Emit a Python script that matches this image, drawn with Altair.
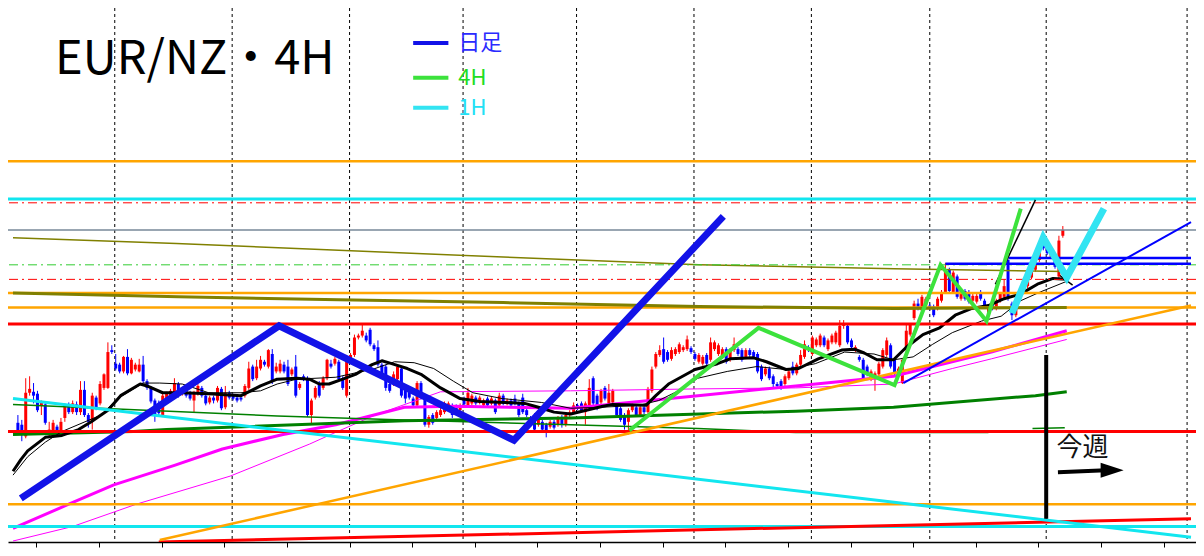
import altair as alt
import pandas as pd

# ---------------- data (prices; candle values in points above 1.7000) ----------------
BASE = 1.7000
PIP = 0.0001

OPEN_PTS = [
    172, 170, 158, 203, 204, 202, 190, 191, 162, 163,
    168, 162, 177, 190, 183, 191, 183, 206, 180, 173,
    198, 192, 208, 208, 247, 233, 232, 225, 240, 223,
    227, 225, 232, 215, 208, 195, 190, 180, 195, 200,
    203, 212, 202, 205, 203, 195, 202, 208, 200, 193,
    198, 195, 207, 188, 203, 200, 198, 198, 200, 208,
    230, 218, 228, 235, 230, 243, 225, 225, 232, 230,
    222, 230, 208, 220, 218, 180, 198, 213, 208, 218,
    233, 233, 235, 218, 200, 237, 242, 260, 262, 262,
    268, 252, 250, 232, 230, 212, 215, 217, 228, 210,
    205, 197, 190, 213, 198, 170, 180, 177, 180, 183,
    188, 190, 189, 185, 197, 190, 192, 198, 193, 190,
    197, 192, 195, 190, 200, 192, 195, 197, 192, 198,
    185, 177,
    180, 170, 173, 170, 168, 173, 170, 178, 170,
    180, 183, 190, 192, 183, 190, 218, 200, 193, 208,
    192, 193, 190, 187, 180, 173, 185, 188, 180, 188,
    183, 205, 230, 242, 248, 245, 238, 243, 245, 247,
    248, 249, 243, 235, 233, 242, 237, 248, 243, 240,
    248, 237, 247, 248, 247, 240, 247, 245, 243, 230,
    222, 228, 220, 212, 215, 212, 218, 230, 223, 232,
    240, 250, 243, 252, 252, 260, 248, 255, 255, 252,
    272, 272, 257, 247, 240, 237, 230, 217, 218, 222,
    230, 242, 252, 237, 223, 213, 247, 263, 280, 295,
    288, 293, 293, 292, 290, 298, 307, 330, 307, 323,
    300, 308, 307, 298, 297, 307, 298, 285, 297, 290,
    298, 302, 340, 295, 283, 300, 307, 313, 322, 330,
    340, 365, 352, 343, 343, 323, 365,
]
CLOSE_PTS = [
    162, 160, 203, 207, 200, 185, 193, 172, 165, 172,
    162, 173, 190, 183, 192, 183, 206, 180, 173, 200,
    187, 212, 222, 245, 245, 228, 225, 240, 223, 237,
    232, 232, 215, 208, 194, 180, 182, 200, 202, 205,
    213, 200, 204, 200, 197, 203, 210, 200, 192, 198,
    195, 208, 187, 203, 198, 197, 195, 196, 210, 228,
    217, 230, 237, 232, 247, 215, 230, 233, 225, 212,
    227, 200, 212, 217, 180, 195, 208, 200, 218, 237,
    230, 238, 217, 208, 240, 242, 260, 262, 267, 257,
    253, 248, 232, 223, 208, 205, 222, 230, 200, 197,
    198, 190, 213, 198, 170, 178, 172, 183, 185, 192,
    192, 180, 186, 190, 191, 203, 200, 192, 198, 195,
    190, 197, 183, 200, 192, 195, 190, 192, 180, 183,
    180, 172,
    165, 177, 165, 162, 173, 167, 177, 170, 180,
    183, 190, 187, 185, 192, 208, 192, 187, 205, 197,
    203, 205, 180, 175, 170, 185, 190, 180, 188, 183,
    207, 227, 243, 247, 235, 237, 247, 248, 253, 250,
    258, 245, 238, 242, 240, 233, 255, 255, 252, 248,
    235, 247, 253, 243, 237, 247, 242, 240, 225, 217,
    228, 218, 212, 210, 208, 220, 225, 223, 232, 242,
    253, 247, 260, 258, 262, 252, 257, 262, 265, 272,
    273, 255, 250, 250, 237, 218, 222, 225, 223, 233,
    247, 257, 230, 223, 228, 237, 267, 273, 295, 290,
    302, 300, 290, 283, 300, 307, 330, 308, 327, 302,
    308, 300, 297, 303, 303, 300, 292, 292, 290, 298,
    305, 313, 300, 283, 297, 307, 320, 323, 330, 343,
    355, 352, 347, 350, 333, 360, 371,
]
HIGH_PTS = [
    180, 175, 218, 220, 213, 205, 195, 193, 173, 175,
    170, 177, 192, 193, 195, 194, 215, 215, 182, 203,
    200, 215, 223, 255, 252, 243, 234, 241, 248, 239,
    234, 238, 241, 217, 210, 197, 195, 202, 204, 207,
    218, 214, 206, 207, 205, 205, 212, 210, 202, 200,
    200, 210, 209, 210, 205, 202, 200, 200, 212, 235,
    232, 237, 241, 237, 248, 248, 234, 237, 235, 237,
    229, 242, 214, 222, 220, 197, 210, 215, 220, 238,
    237, 240, 237, 220, 242, 244, 263, 264, 274, 265,
    270, 254, 257, 234, 232, 214, 225, 232, 230, 212,
    207, 199, 215, 215, 200, 180, 182, 185, 190, 194,
    194, 192, 191, 192, 199, 208, 202, 200, 200, 197,
    199, 199, 197, 203, 202, 197, 197, 201, 194, 202,
    187, 179,
    182, 179, 175, 172, 175, 175, 179, 180, 182,
    185, 193, 192, 194, 194, 217, 220, 202, 207, 210,
    212, 207, 192, 189, 182, 187, 192, 190, 190, 190,
    209, 230, 245, 252, 260, 247, 250, 250, 255, 252,
    262, 251, 245, 244, 242, 244, 260, 257, 254, 250,
    250, 249, 260, 250, 249, 249, 249, 247, 245, 232,
    230, 230, 222, 214, 217, 222, 227, 235, 234, 247,
    257, 252, 262, 260, 264, 262, 259, 264, 267, 278,
    278, 274, 259, 252, 242, 239, 232, 227, 225, 235,
    249, 260, 254, 239, 230, 239, 273, 275, 298, 300,
    304, 302, 295, 294, 302, 309, 337, 332, 329, 325,
    310, 310, 309, 305, 305, 309, 300, 294, 299, 300,
    307, 320, 343, 297, 299, 309, 322, 325, 332, 345,
    357, 367, 354, 352, 345, 365, 375,
]
LOW_PTS = [
    160, 153, 156, 200, 192, 183, 180, 170, 157, 160,
    160, 160, 173, 181, 181, 180, 180, 178, 167, 165,
    185, 190, 206, 207, 243, 226, 223, 223, 221, 222,
    225, 224, 213, 206, 192, 173, 178, 178, 193, 198,
    201, 198, 200, 198, 195, 183, 200, 198, 190, 191,
    192, 193, 185, 186, 196, 195, 193, 194, 198, 206,
    215, 216, 226, 230, 228, 212, 223, 223, 223, 210,
    220, 198, 206, 215, 178, 170, 196, 198, 206, 216,
    228, 231, 215, 206, 198, 235, 240, 258, 260, 255,
    251, 246, 230, 221, 205, 203, 210, 215, 198, 192,
    196, 188, 188, 196, 168, 167, 170, 175, 178, 181,
    186, 177, 184, 183, 189, 188, 190, 190, 191, 188,
    188, 190, 181, 188, 190, 190, 188, 190, 178, 181,
    178, 170,
    163, 168, 162, 157, 166, 165, 168, 167, 168,
    178, 181, 185, 183, 170, 188, 190, 185, 191, 195,
    190, 191, 178, 173, 165, 160, 183, 178, 178, 181,
    181, 203, 228, 240, 233, 235, 236, 241, 243, 245,
    246, 243, 236, 233, 231, 231, 235, 246, 241, 238,
    233, 235, 245, 241, 235, 238, 240, 238, 223, 215,
    220, 216, 207, 208, 206, 210, 216, 221, 221, 230,
    238, 245, 241, 250, 250, 250, 246, 253, 253, 250,
    269, 253, 248, 245, 235, 216, 220, 215, 205, 220,
    228, 240, 228, 221, 221, 212, 245, 261, 278, 288,
    286, 291, 288, 281, 288, 296, 305, 306, 305, 300,
    298, 298, 295, 296, 295, 298, 290, 283, 288, 288,
    296, 300, 298, 278, 281, 298, 305, 311, 320, 328,
    338, 350, 345, 341, 331, 321, 363,
]

# x positions are 4H bar indices
GRID_BARS = [24.75, 54.75, 84.75, 113.75, 142.75, 172.75, 202.75, 233.0, 262.75, 298.75]
TICK_BARS = [4.75, 20.75, 36.75, 52.75, 68.75, 84.75, 100.75, 116.75, 132.75, 148.75,
             164.75, 180.75, 196.75, 212.75, 228.75, 244.75, 260.75, 276.75, 292.75]

# horizontal levels
ORANGE_LEVELS = [1.7442, 1.7306, 1.7291, 1.7088]
CYAN_LEVELS = [1.7403, 1.7065]
RED_LEVELS = [1.7274, 1.7163]
RED_DASHDOT_LEVELS = [1.7399, 1.7320]
GREEN_DASHDOT_LEVELS = [1.7335]
GRAY_LEVELS = [1.7371]
BLUE_H_START = [237.0, 253.25]
BLUE_H_LEVELS = [1.7336, 1.7342]

# moving averages
OLIVE_THIN_BARS = [-1.25, 40.5, 82, 124, 174, 224, 267.5]
OLIVE_THIN_PRICE = [1.7363, 1.7357, 1.7350, 1.7343, 1.7335, 1.7331, 1.7328]
OLIVE_THICK_BARS = [-1.25, 41, 82, 124, 174, 224, 268]
OLIVE_THICK_PRICE = [1.7306, 1.7302, 1.7299, 1.7296, 1.7292, 1.7290, 1.7291]

MAG_THICK_BARS = [-1.25, 13, 24.5, 40, 52.25, 67.75, 81.25, 98.75, 111.25, 141.25,
                  173.75, 198.75, 223.75, 248.75, 268]
MAG_THICK_PRICE = [1.7063, 1.7088, 1.7108, 1.7128, 1.7145, 1.7160, 1.7170, 1.7188, 1.7189,
                   1.7187, 1.7200, 1.7210, 1.7220, 1.7245, 1.7267]
MAG_THIN_BARS = [-1.25, 14, 30.25, 54.25, 74.5, 80, 91.25, 108, 141.25, 173.75, 198.75,
                 223.75, 238.75, 248.75, 268]
MAG_THIN_PRICE = [1.7050, 1.7065, 1.7088, 1.7117, 1.7150, 1.7160, 1.7180, 1.7204, 1.7205,
                  1.7207, 1.7208, 1.7212, 1.7228, 1.7238, 1.7258]

DKGREEN_THICK_BARS = [-1.25, 29.5, 38, 98.75, 141.25, 198.75, 223.75, 260, 268]
DKGREEN_THICK_PRICE = [1.7160, 1.7163, 1.7165, 1.7174, 1.7177, 1.7184, 1.7188, 1.7200, 1.7204]
DKGREEN_THIN_BARS = [-1.25, 66.25, 98.75, 141.25, 173.75, 198.75, 248]
DKGREEN_THIN_PRICE = [1.7191, 1.7179, 1.7175, 1.7170, 1.7166, 1.7162, 1.7162]
DKGREEN_PIECE_BARS = [259.25, 267.5]
DKGREEN_PIECE_PRICE = [1.7166, 1.7167]

MA_FAST_BARS = [-1.25, 0.75, 2.5, 7, 11.25, 15.5, 18.75, 23, 26.25, 31.25, 33, 37, 42, 48.75,
                57, 62, 66.25, 71.25, 74.5, 77, 79.5, 83, 86.25, 90.5, 93, 95.5, 99.5, 103,
                108, 113, 118, 124.5, 129.5, 133, 137, 141.25, 149.5, 152, 160.5, 163, 166.25,
                173, 178.75, 182, 188, 191.25, 196.25, 199.5, 204.5, 210.5, 213.75, 216.25,
                219.5, 223.75, 227, 231.25, 235.5, 239.5, 243.75, 248, 252, 256.25, 260.5,
                264.5, 268]
MA_FAST_PRICE = [1.7122, 1.7134, 1.7143, 1.7157, 1.7159, 1.7165, 1.7173, 1.7185, 1.7200,
                 1.7212, 1.7210, 1.7203, 1.7203, 1.7202, 1.7200, 1.7210, 1.7217, 1.7218,
                 1.7217, 1.7212, 1.7212, 1.7217, 1.7222, 1.7232, 1.7236, 1.7233, 1.7228,
                 1.7222, 1.7208, 1.7197, 1.7194, 1.7193, 1.7192, 1.7188, 1.7183, 1.7181,
                 1.7189, 1.7191, 1.7190, 1.7200, 1.7212, 1.7227, 1.7233, 1.7238, 1.7239,
                 1.7235, 1.7227, 1.7228, 1.7238, 1.7247, 1.7248, 1.7244, 1.7237, 1.7237,
                 1.7250, 1.7263, 1.7270, 1.7283, 1.7290, 1.7293, 1.7300, 1.7305, 1.7315,
                 1.7321, 1.7320]
MA_SLOW_BARS = [-1.25, 2.5, 7, 11.25, 21.25, 25.5, 32, 36.25, 42, 48.75, 57, 62, 66.25, 71.25,
                81.25, 91.25, 96.25, 101.25, 106.25, 111.25, 116.25, 123.75, 133.75, 141.25,
                148.75, 158.75, 163.75, 168.75, 173.75, 181.25, 188.75, 196.25, 203.75,
                211.25, 218.75, 223.75, 228.75, 233.75, 238.75, 246.25, 251.25, 256.25,
                261.25, 268]
MA_SLOW_PRICE = [1.7118, 1.7137, 1.7152, 1.7163, 1.7180, 1.7197, 1.7213, 1.7213, 1.7212,
                 1.7203, 1.7203, 1.7205, 1.7212, 1.7217, 1.7219, 1.7228, 1.7235, 1.7234,
                 1.7228, 1.7215, 1.7203, 1.7197, 1.7193, 1.7187, 1.7188, 1.7190, 1.7195,
                 1.7205, 1.7218, 1.7225, 1.7230, 1.7227, 1.7233, 1.7245, 1.7243, 1.7237,
                 1.7240, 1.7253, 1.7265, 1.7277, 1.7282, 1.7298, 1.7307, 1.7318]

# trend lines: (bar1, price1, bar2, price2)
TL_ORANGE = [36.25, 1.7051, 299.75, 1.7293]
TL_RED = [36.0, 1.7049, 299.75, 1.7073]
TL_CYAN = [-1.25, 1.7197, 299.75, 1.7054]
TL_BLUE = [226.25, 1.7213, 299.75, 1.7379]
TL_BLACK = [249.75, 1.7315, 260.0, 1.7402]
TL_BLACK_SHORT = [266.25, 1.7324, 269.5, 1.7314]

# wave zigzags
ZZ_DAILY_BARS = [0.75, 66.75, 126.75, 180.25]
ZZ_DAILY_PRICE = [1.7094, 1.7272, 1.7154, 1.7385]
ZZ_4H_BARS = [156.25, 189.25, 224.0, 235.75, 247.5, 256.25]
ZZ_4H_PRICE = [1.7164, 1.7270, 1.7211, 1.7335, 1.7277, 1.7393]
ZZ_1H_BARS = [254.0, 262.0, 268.0, 277.5]
ZZ_1H_PRICE = [1.7285, 1.7363, 1.7322, 1.7393]

WEEK_BAR = 262.75
WEEK_RANGE = [1.7242, 1.7073]

TITLE = "EUR/NZ・4H"
LEGEND_LABELS = ["日足", "4H", "1H"]
LEGEND_PRICE = [1.7564, 1.7528, 1.7497]
WEEK_LABEL = "今週"

# ---------------- styling ----------------
FONT = "Noto Sans CJK JP"
C_ORANGE = "#ffa500"
C_CYAN = "#12e6ef"
C_RED = "#ff0000"
C_OLIVE = "#808000"
C_DKGREEN = "#008000"
C_MAGENTA = "#ff00ff"
C_BLUE_ZZ = "#1212e8"
C_GREEN_ZZ = "#3ce23c"
C_CYAN_ZZ = "#33e4f2"
DASHDOT = [9, 4, 2, 4]

XS = alt.Scale(domain=[-1.25, 299.75], nice=False, zero=False)
YS = alt.Scale(domain=[1.7049, 1.7600], nice=False, zero=False)
XAX = alt.Axis(values=TICK_BARS, labels=False, grid=False, domain=True, ticks=True,
               tickSize=5, tickColor="black", domainColor="black", domainWidth=1.5,
               tickWidth=1)


def xe(f):
    return alt.X(f, type="quantitative", scale=XS, axis=XAX, title=None)


def ye(f):
    return alt.Y(f, type="quantitative", scale=YS, axis=None)


def path(bars, prices, color, width, dash=None, join="round"):
    d = pd.DataFrame({"bar": bars, "price": prices, "k": list(range(len(bars)))})
    kw = dict(color=color, strokeWidth=width, clip=True, strokeCap="butt", strokeJoin=join)
    if dash:
        kw["strokeDash"] = dash
    return alt.Chart(d).mark_line(**kw).encode(x=xe("bar"), y=ye("price"),
                                               order=alt.Order("k:Q"))


def hlines(levels, color, width, dash=None):
    d = pd.DataFrame({"price": levels})
    kw = dict(color=color, strokeWidth=width)
    if dash:
        kw["strokeDash"] = dash
    return alt.Chart(d).mark_rule(**kw).encode(y=ye("price"))


def segment(seg, color, width):
    d = pd.DataFrame({"b1": [seg[0]], "p1": [seg[1]], "b2": [seg[2]], "p2": [seg[3]]})
    return alt.Chart(d).mark_rule(color=color, strokeWidth=width, clip=True).encode(
        x=xe("b1"), y=ye("p1"), x2="b2", y2="p2")


# ---------------- candles ----------------
n = len(CLOSE_PTS)
rows = []
for i in range(n):
    o = BASE + OPEN_PTS[i] * PIP
    c = BASE + CLOSE_PTS[i] * PIP
    h = max(BASE + HIGH_PTS[i] * PIP, o, c)
    l = min(BASE + LOW_PTS[i] * PIP, o, c)
    top, bot = max(o, c), min(o, c)
    if top - bot < 0.8 * PIP:
        top = bot + 0.8 * PIP
    rows.append({"bar": i, "top": top, "bot": bot, "high": h, "low": l,
                 "dir": "up" if c >= o else "down"})
candles = pd.DataFrame(rows)
cscale = alt.Scale(domain=["up", "down"], range=[C_RED, "#0000ff"])

wicks = alt.Chart(candles).mark_rule(strokeWidth=1).encode(
    x=xe("bar"), y=ye("low"), y2="high",
    color=alt.Color("dir:N", scale=cscale, legend=None))
bodies = alt.Chart(candles).mark_bar(size=3).encode(
    x=xe("bar"), y=ye("bot"), y2="top",
    color=alt.Color("dir:N", scale=cscale, legend=None))

grid = alt.Chart(pd.DataFrame({"bar": GRID_BARS})).mark_rule(
    color="black", strokeWidth=1, strokeDash=[3, 3]).encode(x=xe("bar"))

layers = [grid, wicks, bodies]

# moving averages
layers += [
    path(MAG_THIN_BARS, MAG_THIN_PRICE, C_MAGENTA, 1),
    path(MAG_THICK_BARS, MAG_THICK_PRICE, C_MAGENTA, 3),
    path(DKGREEN_THIN_BARS, DKGREEN_THIN_PRICE, C_DKGREEN, 1.5),
    path(DKGREEN_PIECE_BARS, DKGREEN_PIECE_PRICE, C_DKGREEN, 1.5),
    path(DKGREEN_THICK_BARS, DKGREEN_THICK_PRICE, C_DKGREEN, 3),
    path(OLIVE_THIN_BARS, OLIVE_THIN_PRICE, C_OLIVE, 1.5),
    path(MA_SLOW_BARS, MA_SLOW_PRICE, "black", 1),
    path(MA_FAST_BARS, MA_FAST_PRICE, "black", 3),
]

# horizontal levels
layers += [
    hlines(GRAY_LEVELS, "#778899", 1.5),
    hlines(GREEN_DASHDOT_LEVELS, "#32cd32", 1, DASHDOT),
    hlines(RED_DASHDOT_LEVELS, C_RED, 1, DASHDOT),
    hlines(ORANGE_LEVELS, C_ORANGE, 2.5),
    hlines(CYAN_LEVELS, C_CYAN, 3),
    hlines(RED_LEVELS, C_RED, 3),
    path(OLIVE_THICK_BARS, OLIVE_THICK_PRICE, C_OLIVE, 3),
]

blue_h = pd.DataFrame({"b1": BLUE_H_START, "price": BLUE_H_LEVELS})
layers.append(alt.Chart(blue_h).mark_rule(color="#0000ff", strokeWidth=2.5).encode(
    x=xe("b1"), x2=alt.datum(299.75), y=ye("price")))

# trend lines
layers += [
    segment(TL_RED, C_RED, 3),
    segment(TL_CYAN, C_CYAN, 3),
    segment(TL_ORANGE, C_ORANGE, 2.5),
    segment(TL_BLUE, "#0000ff", 2),
    segment(TL_BLACK, "black", 1.5),
    segment(TL_BLACK_SHORT, "black", 1.5),
]

# zigzags
layers += [
    path(ZZ_DAILY_BARS, ZZ_DAILY_PRICE, C_BLUE_ZZ, 7, join="miter"),
    path(ZZ_4H_BARS, ZZ_4H_PRICE, C_GREEN_ZZ, 4, join="miter"),
    path(ZZ_1H_BARS, ZZ_1H_PRICE, C_CYAN_ZZ, 7, join="miter"),
]

# this-week marker
wk = pd.DataFrame({"bar": [WEEK_BAR], "p1": [WEEK_RANGE[0]], "p2": [WEEK_RANGE[1]]})
layers.append(alt.Chart(wk).mark_rule(color="black", strokeWidth=4).encode(
    x=xe("bar"), y=ye("p1"), y2="p2"))
layers.append(alt.Chart(pd.DataFrame({"bar": [272.0], "price": [1.7146], "t": [WEEK_LABEL]}))
              .mark_text(font=FONT, fontSize=26, color="#111111", align="center",
                         baseline="middle")
              .encode(x=xe("bar"), y=ye("price"), text="t:N"))
layers.append(segment([265.75, 1.7121, 278.0, 1.7123], "black", 4))
layers.append(alt.Chart(pd.DataFrame({"bar": [279.6], "price": [1.7123]}))
              .mark_point(shape="M -1 -0.65 L 1 0 L -1 0.65 Z", size=530, filled=True,
                          color="black", opacity=1, strokeWidth=0)
              .encode(x=xe("bar"), y=ye("price")))

# title
layers.append(alt.Chart(pd.DataFrame({"bar": [9.5], "price": [1.7532], "t": [TITLE]}))
              .mark_text(font=FONT, fontSize=47, color="black", align="left",
                         baseline="alphabetic")
              .encode(x=xe("bar"), y=ye("price"), text="t:N"))

# legend
leg_colors = [C_BLUE_ZZ, C_GREEN_ZZ, C_CYAN_ZZ]
text_colors = ["#2a2aff", "#22dd22", "#22e0f5"]
for lab, pr, lc, tc in zip(LEGEND_LABELS, LEGEND_PRICE, leg_colors, text_colors):
    d = pd.DataFrame({"b1": [101.0], "b2": [110.0], "price": [pr]})
    layers.append(alt.Chart(d).mark_rule(color=lc, strokeWidth=4).encode(
        x=xe("b1"), x2="b2", y=ye("price")))
    t = pd.DataFrame({"bar": [112.5], "price": [pr], "t": [lab]})
    layers.append(alt.Chart(t).mark_text(font=FONT, fontSize=22, color=tc, align="left",
                                         baseline="middle")
                  .encode(x=xe("bar"), y=ye("price"), text="t:N"))

chart = alt.layer(*layers).properties(
    width=1188, height=534,
    autosize=alt.AutoSizeParams(type="none"),
    padding={"left": 0, "top": 0, "right": 0, "bottom": 6},
    background="white",
).configure_view(stroke=None)

chart.save("out.html", embed_options={"renderer": "svg", "actions": False})
